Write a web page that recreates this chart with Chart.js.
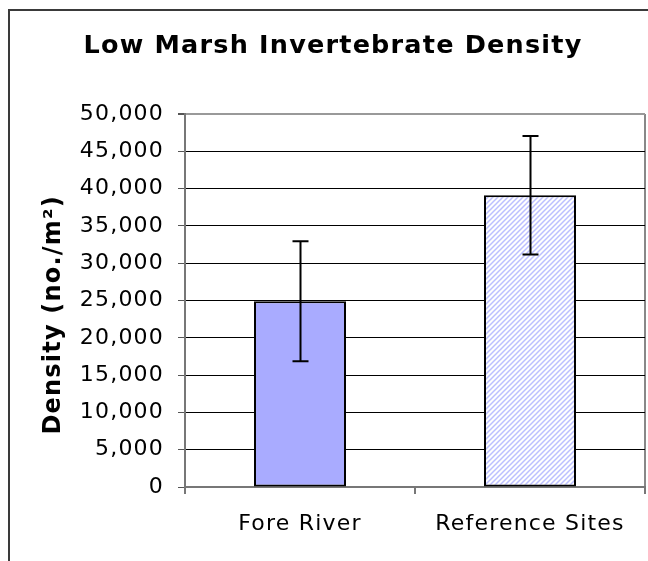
<!DOCTYPE html>
<html>
<head>
<meta charset="utf-8">
<script src="https://cdn.jsdelivr.net/npm/chart.js"></script>
<style>
  html, body { margin: 0; padding: 0; background: #fff; }
  #wrap { width: 648px; height: 561px; }
</style>
</head>
<body>
<div id="wrap"><canvas id="densityChart" width="648" height="561"></canvas></div>
<script>
const categories = ["Fore River", "Reference Sites"];
const densities = [24900, 39100];
const errors = [8050, 7950];
const yTicks = [0, 5000, 10000, 15000, 20000, 25000, 30000, 35000, 40000, 45000, 50000];

function makeHatch() {
    let c = document.createElement("canvas");
    c.width = 5;
    c.height = 5;
    let g = c.getContext("2d");
    g.fillStyle = "#ffffff";
    g.fillRect(0, 0, 5, 5);
    g.strokeStyle = "#bcbfff";
    g.lineWidth = 1.5;
    g.beginPath();
    g.moveTo(-1, 6); g.lineTo(6, -1);
    g.moveTo(-1, 1); g.lineTo(1, -1);
    g.moveTo(4, 6); g.lineTo(6, 4);
    g.stroke();
    return g.createPattern(c, "repeat");
}

// frame around the whole chart + white background, wider letter spacing like the original
const framePlugin = {
    id: "frame",
    beforeDraw(chart) {
        let ctx = chart.ctx;
        ctx.save();
        ctx.fillStyle = "#fff";
        ctx.fillRect(0, 0, chart.width, chart.height);
        ctx.strokeStyle = "#3a3a3a";
        ctx.lineWidth = 2;
        ctx.beginPath();
        ctx.moveTo(9, chart.height + 2);
        ctx.lineTo(9, 10);
        ctx.lineTo(chart.width + 2, 10);
        ctx.stroke();
        ctx.restore();
        ctx.letterSpacing = "1.2px";
    }
};

// error bars drawn through the y scale
const errorBarPlugin = {
    id: "errorBars",
    afterDatasetsDraw(chart) {
        let ctx = chart.ctx;
        let yScale = chart.scales.y;
        let meta = chart.getDatasetMeta(0);
        ctx.save();
        ctx.strokeStyle = "#000";
        ctx.lineWidth = 2;
        meta.data.forEach((bar, i) => {
            let x = Math.round(bar.x) + 0.5;
            let top = yScale.getPixelForValue(densities[i] + errors[i]);
            let bottom = yScale.getPixelForValue(densities[i] - errors[i]);
            ctx.beginPath();
            ctx.moveTo(x, top);
            ctx.lineTo(x, bottom);
            ctx.moveTo(x - 8, top);
            ctx.lineTo(x + 8, top);
            ctx.moveTo(x - 8, bottom);
            ctx.lineTo(x + 8, bottom);
            ctx.stroke();
        });
        ctx.restore();
    }
};

let ctx = document.getElementById("densityChart").getContext("2d");
let densityChart = new Chart(ctx, {
    type: "bar",
    data: {
        labels: categories,
        datasets: [{
            label: "Density",
            data: densities,
            backgroundColor: ["#a9abff", makeHatch()],
            borderColor: "#000",
            borderWidth: 2,
            borderSkipped: false,
            barPercentage: 0.4,
            categoryPercentage: 1.0
        }]
    },
    options: {
        responsive: false,
        animation: false,
        layout: { padding: { left: 21, right: 3, top: 0, bottom: 0 } },
        plugins: {
            legend: { display: false },
            tooltip: { enabled: false },
            title: {
                display: true,
                text: "Low Marsh Invertebrate Density",
                color: "#000",
                font: { family: "DejaVu Sans", size: 25.5, weight: "bold" },
                padding: { top: 30.7, bottom: 52.7 }
            }
        },
        scales: {
            x: {
                afterFit: (scale) => { scale.height = 74; },
                grid: {
                    offset: true,
                    color: (c) => c.index === 1 ? "rgba(0,0,0,0)" : "#888",
                    tickColor: "#777",
                    tickLength: 7,
                    lineWidth: 2
                },
                border: { color: "#777", width: 2 },
                ticks: {
                    color: "#000",
                    padding: 17,
                    font: { family: "DejaVu Sans", size: 22 }
                }
            },
            y: {
                min: 0,
                max: 50000,
                afterFit: (scale) => { scale.width = 164; },
                afterBuildTicks: (scale) => { scale.ticks = yTicks.map(v => ({ value: v })); },
                grid: {
                    color: (c) => c.tick && c.tick.value === 50000 ? "#999" : "#000",
                    lineWidth: (c) => c.tick && c.tick.value === 50000 ? 2 : 1,
                    tickColor: "#555",
                    tickLength: 7
                },
                border: { color: "#777", width: 2 },
                ticks: {
                    color: "#000",
                    padding: 14,
                    font: { family: "DejaVu Sans", size: 22 },
                    callback: (v) => v.toLocaleString("en-US")
                },
                title: {
                    display: true,
                    text: "Density (no./m²)   ",
                    color: "#000",
                    font: { family: "DejaVu Sans", size: 24, weight: "bold" },
                    padding: { top: 18.6, bottom: 0 }
                }
            }
        }
    },
    plugins: [framePlugin, errorBarPlugin]
});
</script>
</body>
</html>
